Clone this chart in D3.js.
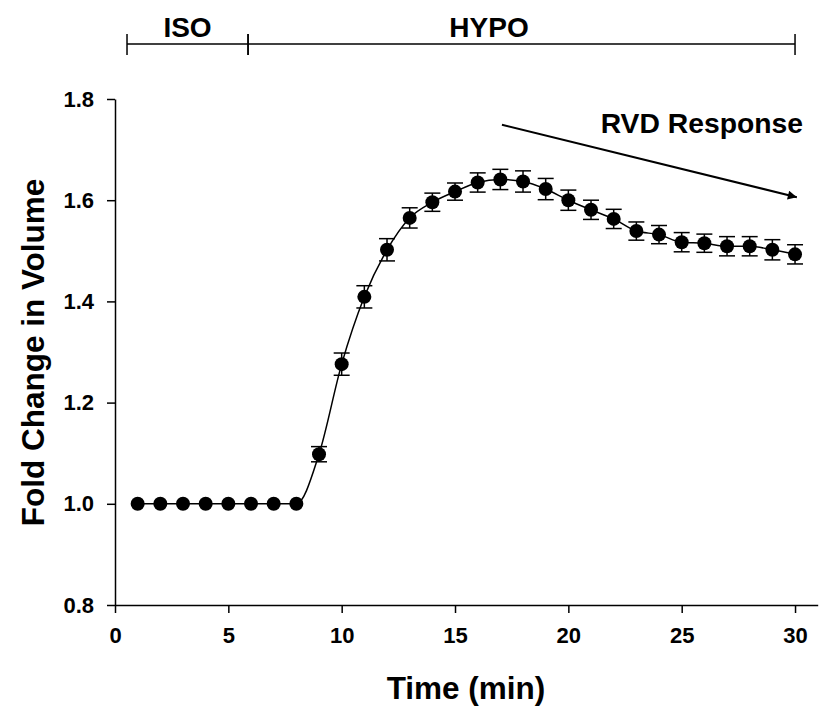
<!DOCTYPE html>
<html>
<head>
<meta charset="utf-8">
<script src="https://cdn.jsdelivr.net/npm/d3@7"></script>
<style>
html,body{margin:0;padding:0;background:#fff;}
svg{display:block;font-family:"Liberation Sans",Arial,sans-serif;}
</style>
</head>
<body>
<svg id="chart" width="819" height="711"></svg>
<script>
// ---- data ----
const times = [1,2,3,4,5,6,7,8,9,10,11,12,13,14,15,16,17,18,19,20,21,22,23,24,25,26,27,28,29,30];
const foldChange = [1.0,1.0,1.0,1.0,1.0,1.0,1.0,1.0,1.098,1.276,1.409,1.502,1.565,1.596,1.617,1.635,1.641,1.637,1.622,1.600,1.581,1.563,1.539,1.532,1.517,1.515,1.509,1.509,1.502,1.493];
const sem = [0,0,0,0,0,0,0,0,0.015,0.022,0.022,0.022,0.020,0.018,0.017,0.019,0.020,0.021,0.021,0.020,0.019,0.019,0.018,0.018,0.019,0.018,0.019,0.019,0.020,0.019];
const xTicks = [0,5,10,15,20,25,30];
const yTicks = [0.8,1.0,1.2,1.4,1.6,1.8];
const phases = [{label:"ISO", start:0.53, end:5.87, labelAt:3.2},{label:"HYPO", start:5.87, end:30, labelAt:16.5}];
const arrow = {x1:17.07, y1:1.749, x2:30.08, y2:1.606, label:"RVD Response"};

const svg = d3.select("#chart");
const x = d3.scaleLinear().domain([0,31]).range([115,817.7]);
const y = d3.scaleLinear().domain([0.8,1.8]).range([605,99]);

// axes
const xAxis = d3.axisBottom(x).tickValues(xTicks).tickSize(8).tickSizeOuter(0).tickPadding(14).tickFormat(d3.format("d"));
const yAxis = d3.axisLeft(y).tickValues(yTicks).tickSize(8).tickSizeOuter(0).tickPadding(13).tickFormat(d3.format(".1f"));

const gx = svg.append("g").attr("transform","translate(0,605)").call(xAxis);
const gy = svg.append("g").attr("transform","translate(115,0)").call(yAxis);
[gx,gy].forEach(g=>{
  g.selectAll("path,line").attr("stroke","#000").attr("stroke-width",1.5);
  g.selectAll("text").attr("fill","#000").style("font-size","22px").style("font-weight","bold").style("font-family","Liberation Sans, Arial, sans-serif");
});

// axis titles
svg.append("text").attr("x",466).attr("y",699).attr("text-anchor","middle")
  .style("font-size","31.5px").style("font-weight","bold").text("Time (min)");
svg.append("text").attr("transform",`translate(44,${352.5}) rotate(-90)`).attr("text-anchor","middle")
  .style("font-size","31.5px").style("font-weight","bold").text("Fold Change in Volume");

// phase brackets
const bracketY = 44;
const pg = svg.append("g");
phases.forEach(p=>{
  pg.append("line").attr("x1",x(p.start)).attr("x2",x(p.end)).attr("y1",bracketY).attr("y2",bracketY).attr("stroke","#000").attr("stroke-width",1.5);
  [p.start,p.end].forEach(v=>pg.append("line").attr("x1",x(v)).attr("x2",x(v)).attr("y1",bracketY-10).attr("y2",bracketY+11).attr("stroke","#000").attr("stroke-width",1.5));
  pg.append("text").attr("x",x(p.labelAt)).attr("y",37).attr("text-anchor","middle")
    .style("font-size","28px").style("font-weight","bold").text(p.label);
});

// arrow
const defs = svg.append("defs");
defs.append("marker").attr("id","ah").attr("viewBox","0 0 10 10").attr("refX",10).attr("refY",5)
  .attr("markerWidth",12).attr("markerHeight",9).attr("markerUnits","userSpaceOnUse").attr("orient","auto")
  .append("path").attr("d","M0,0 L10,5 L0,10 Z").attr("fill","#000");
svg.append("line").attr("x1",x(arrow.x1)).attr("y1",y(arrow.y1)).attr("x2",x(arrow.x2)).attr("y2",y(arrow.y2))
  .attr("stroke","#000").attr("stroke-width",2).attr("marker-end","url(#ah)");
svg.append("text").attr("x",803).attr("y",133).attr("text-anchor","end")
  .style("font-size","28.3px").style("font-weight","bold").text(arrow.label);

// data
const data = times.map((t,i)=>({t, v:foldChange[i], e:sem[i]}));
const line = d3.line().x(d=>x(d.t)).y(d=>y(d.v)).curve(d3.curveMonotoneX);
svg.append("path").datum(data).attr("d",line).attr("fill","none").attr("stroke","#000").attr("stroke-width",1.5);

const eb = svg.append("g");
data.filter(d=>d.e>0).forEach(d=>{
  const cx = x(d.t);
  eb.append("line").attr("x1",cx).attr("x2",cx).attr("y1",y(d.v+d.e)).attr("y2",y(d.v-d.e)).attr("stroke","#000").attr("stroke-width",1.5);
  [d.v+d.e, d.v-d.e].forEach(v=>eb.append("line").attr("x1",cx-8).attr("x2",cx+8).attr("y1",y(v)).attr("y2",y(v)).attr("stroke","#000").attr("stroke-width",1.5));
});
svg.append("g").selectAll("circle").data(data).join("circle")
  .attr("cx",d=>x(d.t)).attr("cy",d=>y(d.v)).attr("r",7).attr("fill","#000");
</script>
</body>
</html>
